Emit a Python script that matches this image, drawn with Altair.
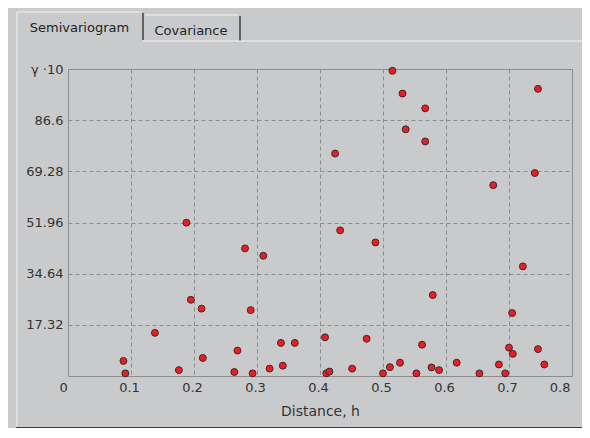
import altair as alt
import pandas as pd

# ---- data ----
distance = [0.088, 0.091, 0.138, 0.176, 0.188, 0.195, 0.212, 0.214, 0.264, 0.269,
            0.281, 0.290, 0.293, 0.310, 0.320, 0.338, 0.341, 0.360, 0.408, 0.410,
            0.415, 0.424, 0.432, 0.451, 0.474, 0.488, 0.500, 0.511, 0.515, 0.527,
            0.531, 0.536, 0.553, 0.562, 0.567, 0.567, 0.579, 0.577, 0.589, 0.617,
            0.653, 0.675, 0.684, 0.694, 0.700, 0.706, 0.705, 0.722, 0.741, 0.746,
            0.746, 0.756]
gamma = [5.1, 0.9, 14.6, 2.0, 51.9, 25.8, 22.8, 6.1, 1.35, 8.6,
         43.2, 22.3, 0.9, 40.7, 2.5, 11.2, 3.5, 11.2, 13.1, 0.9,
         1.5, 75.3, 49.3, 2.5, 12.6, 45.2, 0.9, 3.0, 103.3, 4.5,
         95.6, 83.5, 0.9, 10.6, 90.6, 79.4, 27.4, 2.9, 2.0, 4.5,
         0.9, 64.6, 3.9, 0.9, 9.6, 7.5, 21.3, 37.1, 68.7, 9.1,
         97.2, 3.9]

x_ticks = [0, 0.1, 0.2, 0.3, 0.4, 0.5, 0.6, 0.7, 0.8]
y_ticks = [17.32, 34.64, 51.96, 69.28, 86.6, 103.92]
y_top_label = "γ ·10"
x_title = "Distance, h"
tab_labels = ["Semivariogram", "Covariance"]

df = pd.DataFrame({"distance": distance, "gamma": gamma})

FONT = "DejaVu Sans"
BG = "#C9CACC"
GRID = "#8C8C8C"
TXT = "#333333"
W, H = 504, 307

x_axis = alt.Axis(
    values=x_ticks,
    labelExpr="datum.value == 0 ? '0' : format(datum.value, '.1f')",
    grid=True, gridDash=[4, 3], gridColor=GRID, gridWidth=1,
    ticks=False, domain=False,
    labelFont=FONT, labelFontSize=13, labelColor=TXT, labelPadding=5,
    labelOffset={"condition": {"test": "datum.value === 0", "value": -9}, "value": -2},
    title=x_title, titleFont=FONT, titleFontSize=14, titleFontWeight="normal",
    titleColor=TXT, titlePadding=10,
)
y_axis = alt.Axis(
    values=y_ticks,
    labelExpr=f"datum.value > 100 ? '{y_top_label}' : toString(round(datum.value * 100) / 100)",
    grid=True, gridDash=[4, 3], gridColor=GRID, gridWidth=1,
    ticks=False, domain=False,
    labelFont=FONT, labelFontSize=13, labelColor=TXT, labelPadding=5,
    title=None,
)

points = alt.Chart(df).mark_circle(
    fill="#EE1C24", stroke="#3A2A2A", strokeWidth=1, size=48, opacity=1
).encode(
    x=alt.X("distance:Q", scale=alt.Scale(domain=[0, 0.8], nice=False, zero=False), axis=x_axis),
    y=alt.Y("gamma:Q", scale=alt.Scale(domain=[0, 103.92], nice=False, zero=False), axis=y_axis),
)

one = pd.DataFrame({"k": [0]})

def rule(x1, y1, x2, y2, color, width=1):
    return alt.Chart(one).mark_rule(color=color, strokeWidth=width).encode(
        x=alt.value(x1), y=alt.value(y1), x2=alt.value(x2), y2=alt.value(y2)
    )

def label(txt, x, y):
    return alt.Chart(one).mark_text(
        text=txt, font=FONT, fontSize=13, color="#222222", align="center", baseline="alphabetic"
    ).encode(x=alt.value(x), y=alt.value(y))

# window chrome (offsets relative to plot origin)
LIGHT = "#F2F2F2"
DARK = "#3C3C3C"
chrome = [
    rule(-51, -57, -51, 358, LIGHT),          # selected tab + panel left edge
    rule(-51, -57, 73, -57, LIGHT),           # selected tab top
    rule(75, -56, 75, -29, DARK, 1.5),        # selected tab right
    rule(77, -54, 170, -54, LIGHT),           # second tab top
    rule(172, -53, 172, -28, DARK, 1.5),      # second tab right
    rule(75, -28, 522, -28, LIGHT),           # panel top
    rule(-52, 359, 522, 359, DARK, 2),        # panel bottom
    label(tab_labels[0], 11.5, -37),
    label(tab_labels[1], 123, -34),
]

chart = alt.layer(*chrome, points).properties(
    width=W, height=H,
    autosize=alt.AutoSizeParams(type="none"),
    padding={"left": 60, "top": 61, "right": 10, "bottom": 52},
    background=BG,
).configure_view(stroke=GRID, strokeWidth=1)

chart.save("out.html", embed_options={"renderer": "svg", "actions": False})
